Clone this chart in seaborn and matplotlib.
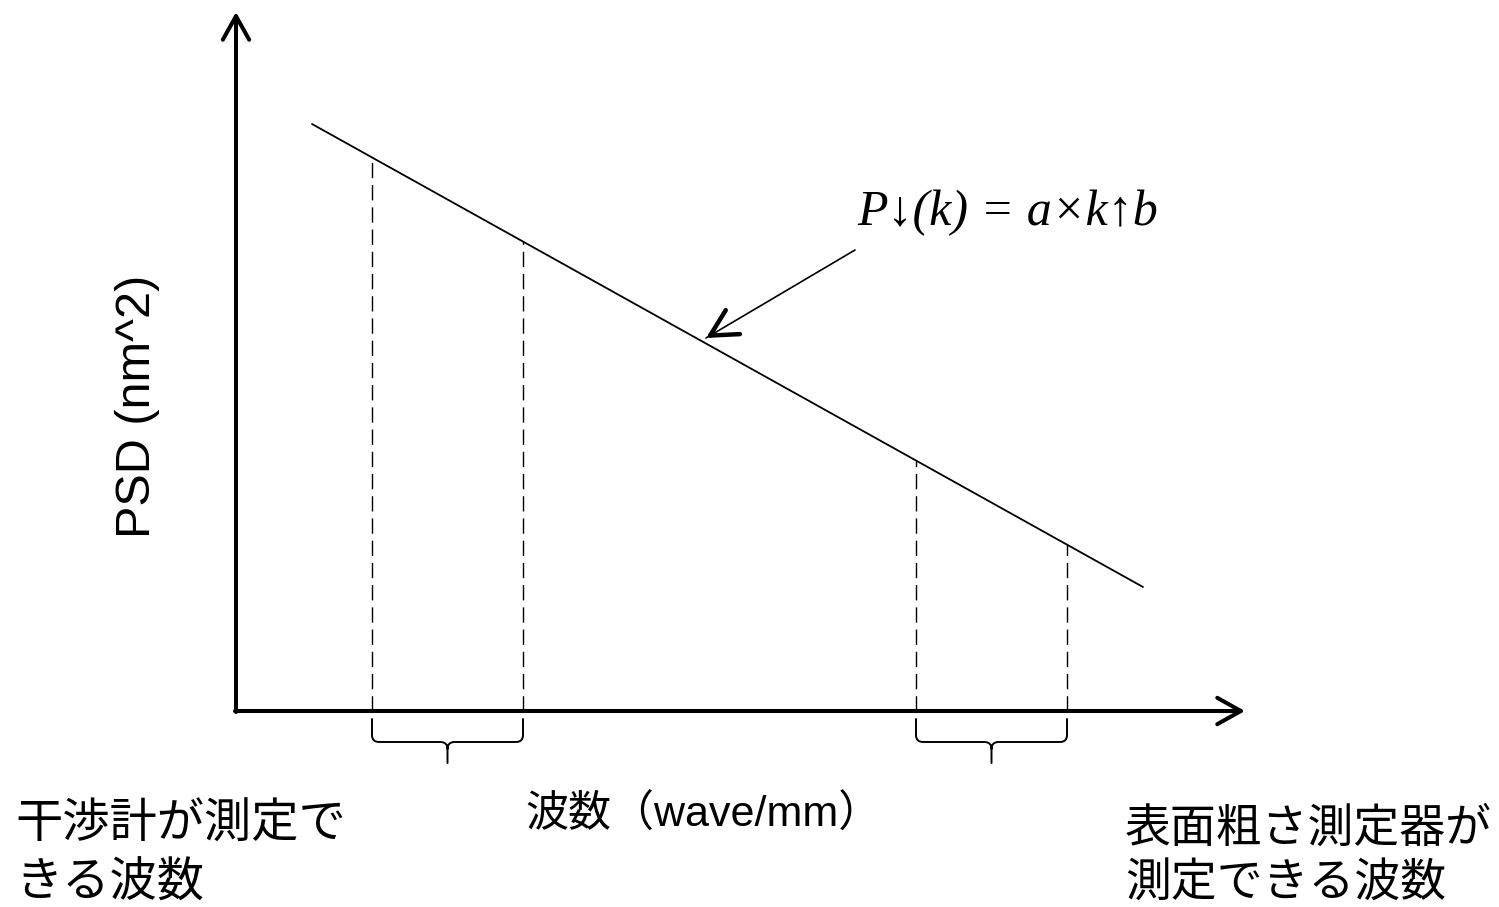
import numpy as np
import pandas as pd
import matplotlib
matplotlib.use("Agg")
import matplotlib.pyplot as plt
from matplotlib.path import Path
from matplotlib.patches import PathPatch
import seaborn as sns

# ---- data (schematic units: origin at axes crossing) ----
wave_k = [76, 907]            # wavenumber at the ends of the PSD line
psd_val = [587, 124]          # PSD at those ends
range_interf = [136, 287]     # wavenumber range: interferometer
range_rough = [680, 831]      # wavenumber range: surface roughness tester
axis_len_k = 1009
axis_len_psd = 699

formula_text = "P↓(k) = a×k↑b"
ylabel_text = "PSD (nm^2)"
xlabel_text = "波数（wave/mm）"
left_label = ["干渉計が測定で", "きる波数"]
right_label = ["表面粗さ測定器が", "測定できる波数"]

sns.set_theme(style="white")
plt.rcParams['font.family'] = ['Liberation Sans', 'Noto Sans CJK JP', 'DejaVu Sans']
plt.rcParams['text.color'] = 'black'

fig = plt.figure(figsize=(14.99, 9.07), dpi=100)
ax = fig.add_axes([0, 0, 1, 1])
ax.set_xlim(-236, 1499 - 236)
ax.set_ylim(711 - 907, 711)
ax.axis("off")

# PSD line
df = pd.DataFrame({"k": wave_k, "psd": psd_val})
sns.lineplot(data=df, x="k", y="psd", ax=ax, color="black", lw=1.3)

# dashed lines from axis up to the PSD line
for k in range_interf + range_rough:
    top = np.interp(k, wave_k, psd_val)
    ax.plot([k, k], [0, top], color="black", lw=1.0, dashes=(11, 5))

# axes with arrows
arrow_kw = dict(arrowstyle="->,head_length=1.7,head_width=0.95", lw=2.9,
                color="black", mutation_scale=10, shrinkA=0, shrinkB=0)
ax.annotate("", xy=(0, axis_len_psd), xytext=(0, -1), arrowprops=arrow_kw)
ax.annotate("", xy=(axis_len_k, 0), xytext=(-1, 0), arrowprops=arrow_kw)

# braces
def brace(x0, x1, yt=-8, ym=-31, yb=-52, r=7):
    xc = (x0 + x1) / 2
    verts = [(x0, yt), (x0, ym + r), (x0, ym), (x0 + r, ym),
             (xc - r, ym), (xc, ym), (xc, ym - r), (xc, yb),
             (xc, ym - r), (xc, ym), (xc + r, ym),
             (x1 - r, ym), (x1, ym), (x1, ym + r), (x1, yt)]
    codes = [Path.MOVETO, Path.LINETO, Path.CURVE3, Path.CURVE3,
             Path.LINETO, Path.CURVE3, Path.CURVE3, Path.LINETO,
             Path.MOVETO, Path.CURVE3, Path.CURVE3,
             Path.LINETO, Path.CURVE3, Path.CURVE3, Path.LINETO]
    ax.add_patch(PathPatch(Path(verts, codes), fill=False, lw=1.4,
                           edgecolor="black", capstyle="round"))

brace(*range_interf)
brace(*range_rough)

# formula with arrow
ax.text(621, 486, formula_text, fontsize=36, style="italic", color="black",
        family=["Liberation Serif", "DejaVu Serif"], ha="left", va="baseline")
tail = np.array([619, 461])
tip = np.array([470, 373])
ax.plot([tail[0], tip[0]], [tail[1], tip[1]], color="black", lw=1.2)
d = (tail - tip) / np.linalg.norm(tail - tip)
ax.annotate("", xy=tuple(tip), xytext=tuple(tip + d * 8),
            arrowprops=dict(arrowstyle="->,head_length=1.9,head_width=1.0",
                            lw=3.2, color="black", mutation_scale=10,
                            shrinkA=0, shrinkB=0))

# labels
ax.text(-99, 305, ylabel_text, fontsize=35, rotation=90, ha="center",
        va="center", color="black")
ax.text(467, -104, xlabel_text, fontsize=31, ha="center", va="center",
        color="black")
for i, s in enumerate(left_label):
    ax.text(-221, -114 - 58 * i, s, fontsize=34, ha="left", va="center",
            family=["Noto Sans CJK JP"], color="black")
for i, s in enumerate(right_label):
    ax.text(889, -118 - 54 * i, s, fontsize=33, ha="left", va="center",
            family=["Noto Sans CJK JP"], color="black")

fig.savefig("out.png", dpi=100)
